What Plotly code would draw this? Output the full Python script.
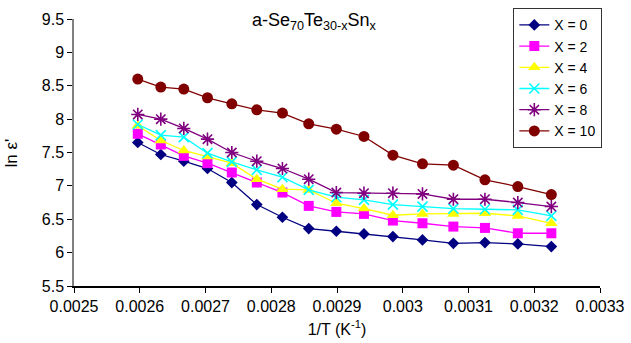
import plotly.graph_objects as go

inv_T = [0.002597, 0.002632, 0.002667, 0.002703, 0.002740, 0.002778, 0.002817, 0.002857,
         0.002899, 0.002941, 0.002985, 0.003030, 0.003077, 0.003125, 0.003175, 0.003226]

series_names = ["X = 0", "X = 2", "X = 4", "X = 6", "X = 8", "X = 10"]

ln_eps_x0 = [7.65, 7.47, 7.37, 7.26, 7.05, 6.72, 6.53, 6.36, 6.32, 6.28, 6.24, 6.19, 6.14, 6.15, 6.13, 6.09]
ln_eps_x2 = [7.78, 7.62, 7.45, 7.34, 7.20, 7.05, 6.90, 6.70, 6.61, 6.58, 6.48, 6.44, 6.39, 6.37, 6.29, 6.29]
ln_eps_x4 = [7.90, 7.68, 7.53, 7.44, 7.34, 7.10, 6.95, 6.94, 6.74, 6.66, 6.56, 6.58, 6.58, 6.59, 6.55, 6.44]
ln_eps_x6 = [7.92, 7.76, 7.73, 7.49, 7.36, 7.24, 7.13, 6.94, 6.83, 6.79, 6.72, 6.69, 6.66, 6.65, 6.64, 6.55]
ln_eps_x8 = [8.07, 8.00, 7.86, 7.70, 7.50, 7.37, 7.26, 7.10, 6.90, 6.89, 6.89, 6.88, 6.80, 6.80, 6.75, 6.69]
ln_eps_x10 = [8.60, 8.48, 8.45, 8.32, 8.23, 8.14, 8.09, 7.93, 7.85, 7.74, 7.46, 7.33, 7.31, 7.09, 6.99, 6.87]

x_tick_vals = [0.0025, 0.0026, 0.0027, 0.0028, 0.0029, 0.0030, 0.0031, 0.0032, 0.0033]
x_tick_text = ["0.0025", "0.0026", "0.0027", "0.0028", "0.0029", "0.003", "0.0031", "0.0032", "0.0033"]
y_tick_vals = [5.5, 6, 6.5, 7, 7.5, 8, 8.5, 9, 9.5]
y_tick_text = ["5.5", "6", "6.5", "7", "7.5", "8", "8.5", "9", "9.5"]

all_series = [ln_eps_x0, ln_eps_x2, ln_eps_x4, ln_eps_x6, ln_eps_x8, ln_eps_x10]
colors = ["#000080", "#FF00FF", "#FFFF00", "#00FFFF", "#800080", "#800000"]
symbols = ["diamond", "square", "triangle-up", "x-thin-open", "asterisk-open", "circle"]
sizes = [9, 10, 11, 10, 11, 11]

fig = go.Figure()
for name, ys, c, s, sz in zip(series_names, all_series, colors, symbols, sizes):
    open_sym = s.endswith("open")
    fig.add_trace(go.Scatter(
        x=inv_T, y=ys, name=name, mode="lines+markers",
        line=dict(color=c, width=1.3),
        marker=dict(symbol=s, size=sz, color=c,
                    line=dict(color=c, width=1.6 if open_sym else 0)),
    ))

font = "Liberation Sans, Arial, sans-serif"
fig.update_layout(
    width=631, height=343,
    margin=dict(l=74, r=31, t=19, b=57, autoexpand=False),
    paper_bgcolor="white", plot_bgcolor="white",
    font=dict(family=font, size=16, color="black"),
    showlegend=True,
    legend=dict(x=1.0044, xanchor="right", y=1.04, yanchor="top",
                bgcolor="white", bordercolor="#333333", borderwidth=1,
                font=dict(size=14), itemwidth=30, tracegroupgap=0),
    annotations=[
        dict(text="a-Se<sub>70</sub>Te<sub>30-x</sub>Sn<sub>x</sub>",
             xref="paper", yref="paper", x=0.458, y=0.989, xanchor="center",
             yanchor="middle", showarrow=False, font=dict(size=18)),
        dict(text="ln ε'", xref="paper", yref="paper", x=-0.118, y=0.5,
             xanchor="center", yanchor="middle", textangle=-90, showarrow=False,
             font=dict(size=17)),
    ],
)
fig.update_xaxes(range=[0.0025, 0.0033], tickvals=x_tick_vals, ticktext=x_tick_text,
                 showgrid=False, zeroline=False, showline=True, linecolor="black",
                 linewidth=1.5, ticks="outside", ticklen=5, tickcolor="black",
                 automargin=False, tickfont=dict(size=16),
                 title=dict(text="1/T (K<sup>-1</sup>)", font=dict(size=16), standoff=10))
fig.update_yaxes(range=[5.5, 9.5], tickvals=y_tick_vals, ticktext=y_tick_text,
                 showgrid=False, zeroline=False, showline=True, linecolor="#808080",
                 linewidth=1.5, ticks="outside", ticklen=5, tickcolor="black",
                 automargin=False, tickfont=dict(size=16))

fig.write_html("out.html", config={"displayModeBar": False},
               post_script="document.body.style.margin='0';")
